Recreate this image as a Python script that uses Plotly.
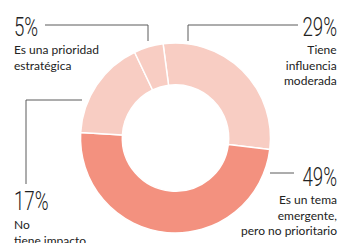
import plotly.graph_objects as go

categories = ["Tiene influencia moderada", "Es un tema emergente, pero no prioritario",
              "No tiene impacto", "Es una prioridad estratégica"]
values = [29, 49, 17, 5]
colors = ["#F8CDC3", "#F3917F", "#F8CDC3", "#F8CDC3"]
label_lines = {
    "Tiene influencia moderada": ["Tiene", "influencia", "moderada"],
    "Es un tema emergente, pero no prioritario": ["Es un tema", "emergente,", "pero no prioritario"],
    "No tiene impacto": ["No", "tiene impacto"],
    "Es una prioridad estratégica": ["Es una prioridad", "estratégica"],
}

W, H = 340, 243
cx, cy, r = 175.5, 138, 95

fig = go.Figure()
fig.add_trace(go.Pie(
    labels=categories, values=values, sort=False, direction="clockwise",
    rotation=-7.5, hole=0.56,
    marker=dict(colors=colors, line=dict(color="white", width=1.5)),
    textinfo="none", hoverinfo="label+percent", showlegend=False,
    domain=dict(x=[(cx - r) / W, (cx + r) / W], y=[(H - cy - r) / H, (H - cy + r) / H]),
))

pct_font = dict(family="Roboto, sans-serif", size=26, color="#222222", weight=300)
lab_font = dict(family="Lato, Open Sans, sans-serif", size=12, color="#222222")

# (category, x, top of number box, top of label box, anchor)
placements = [
    ("Es una prioridad estratégica", 12, 10, 40, "left"),
    ("Tiene influencia moderada", 339, 10, 40, "right"),
    ("No tiene impacto", 12, 184, 215, "left"),
    ("Es un tema emergente, pero no prioritario", 339, 160, 190, "right"),
]
annotations = []
for cat, x, yn, yl, anc in placements:
    v = values[categories.index(cat)]
    annotations.append(dict(x=x / W, y=1 - yn / H, xref="paper", yref="paper",
                            text=f"{v}%", showarrow=False, xanchor=anc, yanchor="top",
                            font=pct_font, align=anc))
    annotations.append(dict(x=x / W, y=1 - yl / H, xref="paper", yref="paper",
                            text="<br>".join(label_lines[cat]), showarrow=False,
                            xanchor=anc, yanchor="top", font=lab_font, align=anc))

line_style = dict(color="#5a5a5a", width=1)
paths = [
    [(45, 25), (148, 25), (148, 41)],
    [(298, 25), (188, 25), (188, 41)],
    [(82, 100), (26, 100), (26, 184)],
    [(270, 173), (294, 173)],
]
shapes = []
for pts in paths:
    d = "M " + " L ".join(f"{px / W},{1 - py / H}" for px, py in pts)
    shapes.append(dict(type="path", path=d, xref="paper", yref="paper", line=line_style))

fig.update_layout(width=W, height=H, margin=dict(l=0, r=0, t=0, b=0),
                  paper_bgcolor="white", plot_bgcolor="white",
                  annotations=annotations, shapes=shapes)

# condense the big percentage numbers horizontally (narrow display face)
post = """
document.body.style.margin='0';
var gd = document.querySelector('.plotly-graph-div');
function condense(){
  document.querySelectorAll('text.annotation-text').forEach(function(t){
    if(!/%$/.test(t.textContent)) return;
    var b = t.getBBox();
    var anchor = t.getAttribute('text-anchor');
    var ax = (anchor === 'end') ? b.x + b.width : b.x;
    t.setAttribute('transform','translate('+ax+',0) scale(0.72,1) translate('+(-ax)+',0)');
  });
}
condense();
if (gd && gd.on) gd.on('plotly_afterplot', condense);
"""
fig.write_html("out.html", post_script=post, config={"displayModeBar": False})
